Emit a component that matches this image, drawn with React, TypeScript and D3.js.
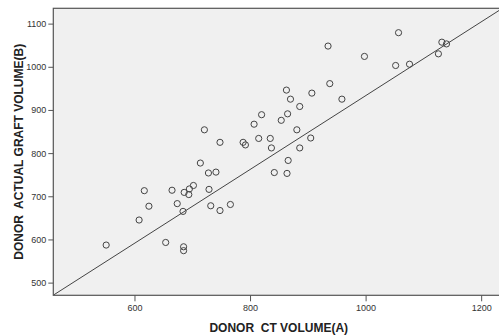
import React, { useRef, useEffect } from "react";
import * as d3 from "d3";

// donor CT volume (A) per case
const ctVolume = [
  551, 617, 625, 608, 654, 685, 685, 665, 674, 684, 686, 694, 695, 702, 714,
  728, 741, 729, 732, 748, 766, 842, 864, 866, 721, 748, 788, 792, 807, 820,
  815, 835, 837, 854, 865, 863, 870, 886, 907, 938, 959, 881, 905, 886, 935,
  998, 1052, 1057, 1076, 1126, 1132, 1140,
];

// actual graft volume (B) per case
const graftVolume = [
  587, 713, 677, 645, 593, 583, 574, 714, 683, 665, 709, 704, 717, 725, 777,
  754, 756, 716, 678, 667, 681, 755, 753, 783, 854, 825, 825, 819, 867, 889,
  834, 834, 812, 876, 891, 946, 925, 908, 939, 961, 925, 854, 835, 812, 1048,
  1024, 1003, 1079, 1006, 1030, 1057, 1053,
];

const xTicks = [600, 800, 1000, 1200];
const yTicks = [500, 600, 700, 800, 900, 1000, 1100];

// fit line B = a + b * A
const fitIntercept = 78;
const fitSlope = 0.855;

export default function App() {
  const ref = useRef<SVGSVGElement | null>(null);

  useEffect(() => {
    const width = 499;
    const height = 335;
    const left = 53.3;
    const top = 8.3;
    const bottom = 295.3;

    const x = d3.scaleLinear().domain([459.5, 1240]).range([left, left + 780.5 * 0.5778]);
    const y = d3.scaleLinear().domain([470.6, 1135.5]).range([bottom, top]);

    const svg = d3.select(ref.current).html("").attr("width", width).attr("height", height);
    const right = x(1240);

    svg.append("rect").attr("width", width).attr("height", height).attr("fill", "#fff");

    svg
      .append("defs")
      .append("clipPath")
      .attr("id", "plotclip")
      .append("rect")
      .attr("x", left)
      .attr("y", top)
      .attr("width", right - left)
      .attr("height", bottom - top);

    svg
      .append("rect")
      .attr("x", left)
      .attr("y", top)
      .attr("width", right - left)
      .attr("height", bottom - top)
      .attr("fill", "#f0f0f0");

    // fit line
    const [x0, x1] = x.domain();
    svg
      .append("line")
      .attr("clip-path", "url(#plotclip)")
      .attr("x1", x(x0))
      .attr("y1", y(fitIntercept + fitSlope * x0))
      .attr("x2", x(x1))
      .attr("y2", y(fitIntercept + fitSlope * x1))
      .attr("stroke", "#444")
      .attr("stroke-width", 1);

    // points
    svg
      .append("g")
      .selectAll("circle")
      .data(ctVolume)
      .enter()
      .append("circle")
      .attr("cx", (d) => x(d))
      .attr("cy", (d, i) => y(graftVolume[i]))
      .attr("r", 3.1)
      .attr("fill", "none")
      .attr("stroke", "#444")
      .attr("stroke-width", 1);

    // frame
    svg
      .append("rect")
      .attr("x", left)
      .attr("y", top)
      .attr("width", right - left)
      .attr("height", bottom - top)
      .attr("fill", "none")
      .attr("stroke", "#555")
      .attr("stroke-width", 1.2);

    const fmt = d3.format("d");

    // y axis
    const yAxis = svg
      .append("g")
      .attr("transform", `translate(${left},0)`)
      .call(d3.axisLeft(y).tickValues(yTicks).tickFormat(fmt).tickSize(5).tickPadding(2));
    yAxis.select(".domain").remove();
    yAxis.selectAll("line").attr("stroke", "#555");
    yAxis
      .selectAll("text")
      .attr("fill", "#333")
      .style("font-family", "Liberation Sans, Arial, sans-serif")
      .style("font-size", "9px");

    // x axis
    const xAxis = svg
      .append("g")
      .attr("transform", `translate(0,${bottom})`)
      .call(d3.axisBottom(x).tickValues(xTicks).tickFormat(fmt).tickSize(6).tickPadding(3));
    xAxis.select(".domain").remove();
    xAxis.selectAll("line").attr("stroke", "#555");
    xAxis
      .selectAll("text")
      .attr("fill", "#333")
      .style("font-family", "Liberation Sans, Arial, sans-serif")
      .style("font-size", "9px");

    // titles
    svg
      .append("text")
      .attr("x", (left + right) / 2)
      .attr("y", 332)
      .attr("text-anchor", "middle")
      .attr("fill", "#222")
      .style("font-family", "Liberation Sans, Arial, sans-serif")
      .style("font-size", "12px")
      .style("font-weight", "bold")
      .style("white-space", "pre")
      .text("DONOR  CT VOLUME(A)");

    svg
      .append("text")
      .attr("transform", `translate(22.5,${(top + bottom) / 2}) rotate(-90)`)
      .attr("text-anchor", "middle")
      .attr("fill", "#222")
      .style("font-family", "Liberation Sans, Arial, sans-serif")
      .style("font-size", "12px")
      .style("font-weight", "bold")
      .style("white-space", "pre")
      .text("DONOR  ACTUAL GRAFT VOLUME(B)");
  }, []);

  return <svg ref={ref} style={{ position: "absolute", left: 0, top: 0, display: "block" }} />;
}
